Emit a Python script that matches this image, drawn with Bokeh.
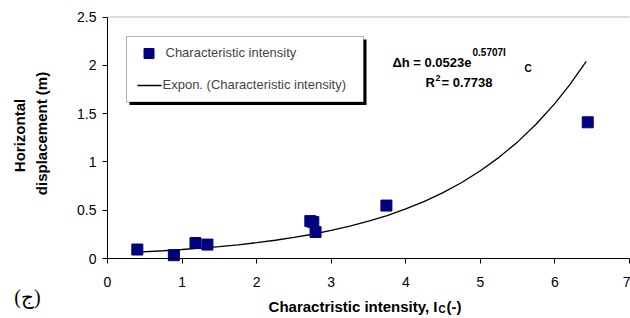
from math import pi
from bokeh.plotting import figure
from bokeh.models import Range1d, Label, BoxAnnotation, FixedTicker, LinearAxis
from bokeh.embed import file_html
from bokeh.resources import INLINE

# ---- data ----
intensity = [0.40, 0.89, 1.18, 1.34, 2.72, 2.76, 2.79, 3.74, 6.44]
displacement = [0.093, 0.034, 0.160, 0.144, 0.387, 0.377, 0.274, 0.548, 1.41]

# exponential trend line
trend_x = [0.40, 0.75, 1.00, 1.25, 1.50, 1.75, 2.00, 2.25, 2.50, 2.75, 3.00, 3.25,
           3.50, 3.75, 4.00, 4.25, 4.50, 4.75, 5.00, 5.25, 5.50, 5.75, 6.00, 6.20, 6.42]
trend_y = [0.066, 0.080, 0.093, 0.107, 0.123, 0.142, 0.164, 0.189, 0.218, 0.251, 0.290, 0.334,
           0.386, 0.445, 0.513, 0.591, 0.682, 0.787, 0.908, 1.047, 1.207, 1.392, 1.606, 1.800, 2.041]

x_ticks = [0, 1, 2, 3, 4, 5, 6, 7]
y_ticks = [0, 0.5, 1, 1.5, 2, 2.5]

FONT = "Liberation Sans"
NAVY = "#000080"

W, H = 630, 318
# page-pixel geometry of the plotting area
X0, XPU = 107.0, 522.0 / 7
Y0, YPU = 258.0, 241.5 / 2.5
def dx(px):
    return (px - X0) / XPU
def dy(py):
    return (Y0 - py) / YPU

p = figure(width=W, height=H, output_backend="svg", toolbar_location=None,
           x_axis_location=None, y_axis_location=None,
           x_range=Range1d(dx(0), dx(W)), y_range=Range1d(dy(H), dy(0)),
           min_border=0)
p.outline_line_color = None
p.background_fill_color = "white"
p.border_fill_color = "white"
p.xgrid.visible = False
p.ygrid.visible = False

xaxis = LinearAxis(fixed_location=0, bounds=(0, 7), ticker=FixedTicker(ticks=x_ticks))
yaxis = LinearAxis(fixed_location=0, bounds=(0, 2.5), ticker=FixedTicker(ticks=y_ticks))
for ax in (xaxis, yaxis):
    ax.axis_line_color = "black"
    ax.axis_line_width = 1
    ax.major_tick_line_color = "black"
    ax.major_tick_out = 5
    ax.major_tick_in = 0
    ax.minor_tick_line_color = None
    ax.major_label_text_font = FONT
    ax.major_label_text_font_size = "14px"
    ax.major_label_text_color = "black"
xaxis.major_label_standoff = 13
yaxis.major_label_standoff = 6
p.add_layout(xaxis, "below")
p.add_layout(yaxis, "left")

# top border line of the plot area
p.add_layout(BoxAnnotation(left=0, right=7, top=2.5, bottom=2.5, fill_alpha=0,
                           line_color="#808080", line_width=1))

# data
p.line(trend_x, trend_y, line_color="black", line_width=1.3)
p.scatter(intensity, displacement, marker="square", size=11,
          fill_color=NAVY, line_color=NAVY)

# legend box with shadow
p.add_layout(BoxAnnotation(left=dx(129), right=dx(366), top=dy(39), bottom=dy(104.5),
                           fill_color="black", fill_alpha=1, line_color=None, level="underlay"))
p.add_layout(BoxAnnotation(left=dx(126), right=dx(363), top=dy(36), bottom=dy(101.5),
                           fill_color="white", fill_alpha=1, line_color="black",
                           line_width=1, level="underlay"))
p.scatter([dx(148.5)], [dy(53)], marker="square", size=10, fill_color=NAVY, line_color=NAVY)
p.line([dx(137), dx(161)], [dy(85), dy(85)], line_color="black", line_width=1.3)
p.add_layout(Label(x=dx(165), y=dy(52), text="Characteristic intensity",
                   text_font=FONT, text_font_size="13px", text_baseline="middle"))
p.add_layout(Label(x=dx(162), y=dy(84), text="Expon. (Characteristic intensity)",
                   text_font=FONT, text_font_size="13px", text_baseline="middle"))

def lab(x, y, t, size, align="left", bold=True, angle=0.0, font=FONT):
    p.add_layout(Label(x=x, y=y, text=t, text_font=font, text_font_size=size,
                       text_font_style="bold" if bold else "normal",
                       text_align=align, text_baseline="middle", angle=angle,
                       text_color="black"))

# equation
lab(dx(471), dy(62), "\u0394h = 0.0523e", "13px", align="right")
lab(dx(472), dy(52), "0.5707I", "10px")
lab(dx(524), dy(67.5), "C", "10px")
lab(dx(425), dy(82), "R", "13px")
lab(dx(435), dy(77), "2", "9px")
lab(dx(441), dy(82), " = 0.7738", "13px")

# axis titles
lab(dx(18.5), dy(135), "Horizontal", "15px", align="center", angle=pi / 2)
lab(dx(41), dy(133), "displacement (m)", "15px", align="center", angle=pi / 2)
lab(dx(437), dy(305.5), "Charactristic intensity, I", "15px", align="right")
lab(dx(438), dy(308.5), "C", "10px")
lab(dx(446), dy(305.5), "(-)", "15px")
lab(dx(27), dy(296), "(\u062c)", "20px", align="center", bold=False, font="Liberation Serif")

open("out.html", "w").write(file_html(p, INLINE))
